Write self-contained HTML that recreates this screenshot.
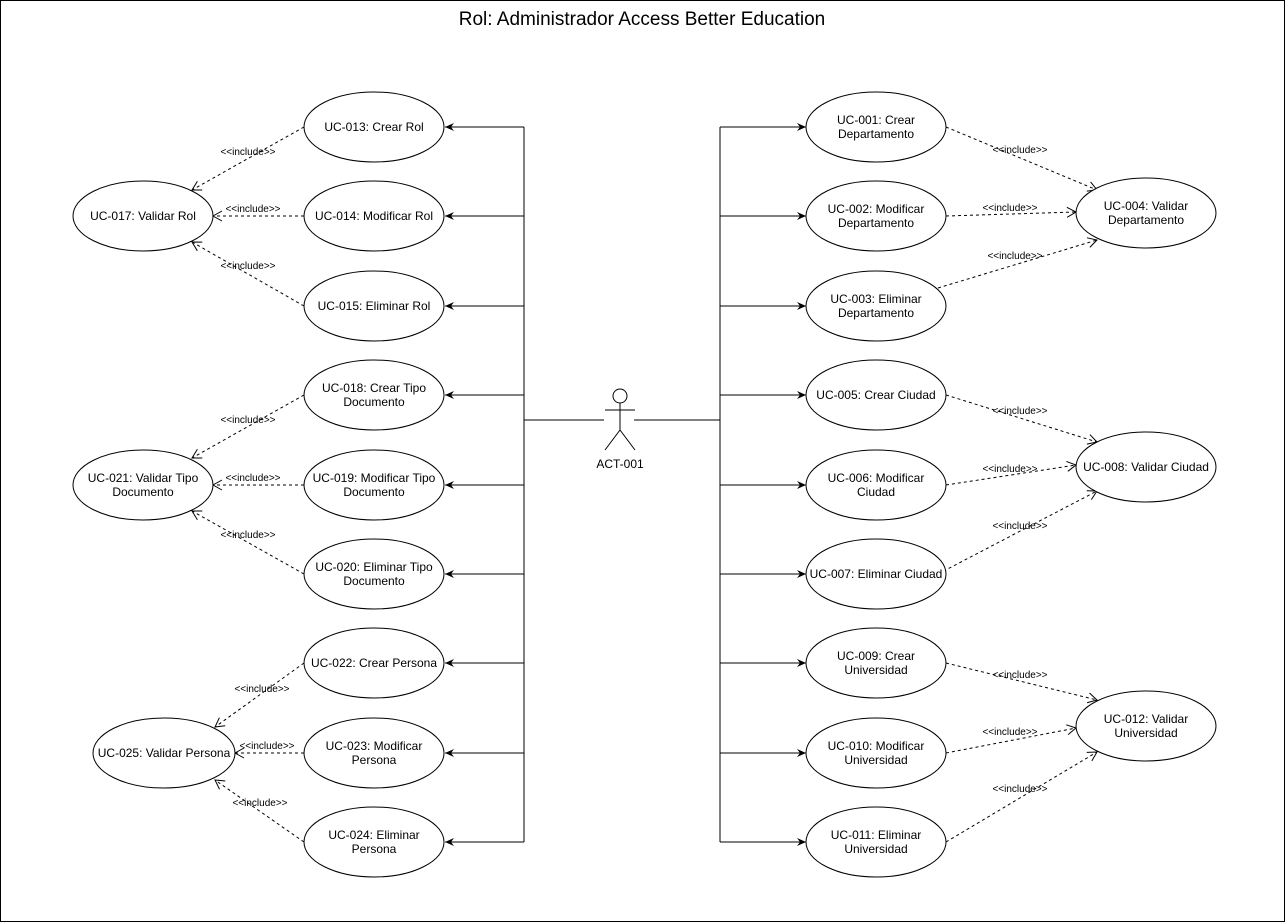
<!DOCTYPE html>
<html><head><meta charset="utf-8"><style>
html,body{margin:0;padding:0;background:#fff}
svg{display:block;font-family:"Liberation Sans",Helvetica,Arial,sans-serif}
.e{fill:#fff;stroke:#000;stroke-width:1}
.t{font-size:12px;text-anchor:middle}
.l{font-size:10px;text-anchor:middle}
.s{stroke:#000;stroke-width:1;fill:none}
.d{stroke:#000;stroke-width:1;fill:none;stroke-dasharray:3,3}
</style></head><body>
<svg width="1285" height="922" viewBox="0 0 1285 922">
<defs>
<marker id="a" markerWidth="10" markerHeight="10" refX="9" refY="5" orient="auto" markerUnits="userSpaceOnUse"><path d="M0,1 L9,5 L0,9 L3,5 Z" fill="#000"/></marker>
<marker id="o" markerWidth="12" markerHeight="12" refX="10" refY="6" orient="auto" markerUnits="userSpaceOnUse"><path d="M1,1 L10,6 L1,11" fill="none" stroke="#000"/></marker>
</defs>
<rect x="0.5" y="0.5" width="1284" height="921" fill="#fff" stroke="#000"/>
<text x="642" y="25" font-size="19" text-anchor="middle">Rol: Administrador Access Better Education</text>

<path class="s" d="M524,127 V842 M524,420 H604 M634,420 H720 M720,127 V842"/>
<g class="s">
<line x1="524" y1="127" x2="445" y2="127" marker-end="url(#a)"/>
<line x1="524" y1="216" x2="445" y2="216" marker-end="url(#a)"/>
<line x1="524" y1="306" x2="445" y2="306" marker-end="url(#a)"/>
<line x1="524" y1="395" x2="445" y2="395" marker-end="url(#a)"/>
<line x1="524" y1="485" x2="445" y2="485" marker-end="url(#a)"/>
<line x1="524" y1="574" x2="445" y2="574" marker-end="url(#a)"/>
<line x1="524" y1="663" x2="445" y2="663" marker-end="url(#a)"/>
<line x1="524" y1="753" x2="445" y2="753" marker-end="url(#a)"/>
<line x1="524" y1="842" x2="445" y2="842" marker-end="url(#a)"/>
<line x1="720" y1="127" x2="806" y2="127" marker-end="url(#a)"/>
<line x1="720" y1="216" x2="806" y2="216" marker-end="url(#a)"/>
<line x1="720" y1="306" x2="806" y2="306" marker-end="url(#a)"/>
<line x1="720" y1="395" x2="806" y2="395" marker-end="url(#a)"/>
<line x1="720" y1="485" x2="806" y2="485" marker-end="url(#a)"/>
<line x1="720" y1="574" x2="806" y2="574" marker-end="url(#a)"/>
<line x1="720" y1="663" x2="806" y2="663" marker-end="url(#a)"/>
<line x1="720" y1="753" x2="806" y2="753" marker-end="url(#a)"/>
<line x1="720" y1="842" x2="806" y2="842" marker-end="url(#a)"/>
</g>

<circle cx="620" cy="396" r="7" class="e"/>
<path class="s" d="M620,403 V430 M605,410 H635 M620,430 L605,450 M620,430 L635,450"/>
<text x="620" y="468" class="t">ACT-001</text>

<g class="d">
<line x1="304" y1="127" x2="192" y2="190" marker-end="url(#o)"/>
<line x1="304" y1="216" x2="213" y2="216" marker-end="url(#o)"/>
<line x1="304" y1="306" x2="192" y2="242" marker-end="url(#o)"/>
<line x1="304" y1="395" x2="192" y2="458" marker-end="url(#o)"/>
<line x1="304" y1="485" x2="213" y2="485" marker-end="url(#o)"/>
<line x1="304" y1="574" x2="192" y2="511" marker-end="url(#o)"/>
<line x1="304" y1="663" x2="215" y2="727" marker-end="url(#o)"/>
<line x1="304" y1="753" x2="235" y2="753" marker-end="url(#o)"/>
<line x1="304" y1="842" x2="215" y2="780" marker-end="url(#o)"/>
<line x1="946" y1="127" x2="1097" y2="190" marker-end="url(#o)"/>
<line x1="946" y1="216" x2="1076" y2="212" marker-end="url(#o)"/>
<line x1="938" y1="288" x2="1097" y2="240" marker-end="url(#o)"/>
<line x1="946" y1="395" x2="1097" y2="442" marker-end="url(#o)"/>
<line x1="946" y1="485" x2="1076" y2="465" marker-end="url(#o)"/>
<line x1="938" y1="574" x2="1097" y2="491" marker-end="url(#o)"/>
<line x1="946" y1="663" x2="1097" y2="700" marker-end="url(#o)"/>
<line x1="946" y1="753" x2="1076" y2="728" marker-end="url(#o)"/>
<line x1="946" y1="842" x2="1097" y2="752" marker-end="url(#o)"/>
</g>
<g class="l">
<text x="248" y="155">&lt;&lt;include&gt;&gt;</text>
<text x="253" y="212">&lt;&lt;include&gt;&gt;</text>
<text x="248" y="269">&lt;&lt;include&gt;&gt;</text>
<text x="248" y="423">&lt;&lt;include&gt;&gt;</text>
<text x="253" y="481">&lt;&lt;include&gt;&gt;</text>
<text x="248" y="538">&lt;&lt;include&gt;&gt;</text>
<text x="262" y="692">&lt;&lt;include&gt;&gt;</text>
<text x="267" y="749">&lt;&lt;include&gt;&gt;</text>
<text x="260" y="806">&lt;&lt;include&gt;&gt;</text>
<text x="1020" y="153">&lt;&lt;include&gt;&gt;</text>
<text x="1010" y="211">&lt;&lt;include&gt;&gt;</text>
<text x="1015" y="259">&lt;&lt;include&gt;&gt;</text>
<text x="1020" y="414">&lt;&lt;include&gt;&gt;</text>
<text x="1010" y="472">&lt;&lt;include&gt;&gt;</text>
<text x="1020" y="529">&lt;&lt;include&gt;&gt;</text>
<text x="1020" y="678">&lt;&lt;include&gt;&gt;</text>
<text x="1010" y="735">&lt;&lt;include&gt;&gt;</text>
<text x="1020" y="792">&lt;&lt;include&gt;&gt;</text>
</g>

<g>
<ellipse class="e" cx="374" cy="127" rx="70" ry="35"/><text class="t" x="374" y="131">UC-013: Crear Rol</text>
<ellipse class="e" cx="374" cy="216" rx="70" ry="35"/><text class="t" x="374" y="220">UC-014: Modificar Rol</text>
<ellipse class="e" cx="374" cy="306" rx="70" ry="35"/><text class="t" x="374" y="310">UC-015: Eliminar Rol</text>
<ellipse class="e" cx="374" cy="395" rx="70" ry="35"/><text class="t" x="374" y="392">UC-018: Crear Tipo</text><text class="t" x="374" y="406">Documento</text>
<ellipse class="e" cx="374" cy="485" rx="70" ry="35"/><text class="t" x="374" y="482">UC-019: Modificar Tipo</text><text class="t" x="374" y="496">Documento</text>
<ellipse class="e" cx="374" cy="574" rx="70" ry="35"/><text class="t" x="374" y="571">UC-020: Eliminar Tipo</text><text class="t" x="374" y="585">Documento</text>
<ellipse class="e" cx="374" cy="663" rx="70" ry="35"/><text class="t" x="374" y="667">UC-022: Crear Persona</text>
<ellipse class="e" cx="374" cy="753" rx="70" ry="35"/><text class="t" x="374" y="750">UC-023: Modificar</text><text class="t" x="374" y="764">Persona</text>
<ellipse class="e" cx="374" cy="842" rx="70" ry="35"/><text class="t" x="374" y="839">UC-024: Eliminar</text><text class="t" x="374" y="853">Persona</text>

<ellipse class="e" cx="143" cy="216" rx="70" ry="35"/><text class="t" x="143" y="220">UC-017: Validar Rol</text>
<ellipse class="e" cx="143" cy="485" rx="70" ry="35"/><text class="t" x="143" y="482">UC-021: Validar Tipo</text><text class="t" x="143" y="496">Documento</text>
<ellipse class="e" cx="164" cy="753" rx="71" ry="35"/><text class="t" x="164" y="757">UC-025: Validar Persona</text>
</g>

<g>
<ellipse class="e" cx="876" cy="127" rx="70" ry="35"/><text class="t" x="876" y="124">UC-001: Crear</text><text class="t" x="876" y="138">Departamento</text>
<ellipse class="e" cx="876" cy="216" rx="70" ry="35"/><text class="t" x="876" y="213">UC-002: Modificar</text><text class="t" x="876" y="227">Departamento</text>
<ellipse class="e" cx="876" cy="306" rx="70" ry="35"/><text class="t" x="876" y="303">UC-003: Eliminar</text><text class="t" x="876" y="317">Departamento</text>
<ellipse class="e" cx="876" cy="395" rx="70" ry="35"/><text class="t" x="876" y="399">UC-005: Crear Ciudad</text>
<ellipse class="e" cx="876" cy="485" rx="70" ry="35"/><text class="t" x="876" y="482">UC-006: Modificar</text><text class="t" x="876" y="496">Ciudad</text>
<ellipse class="e" cx="876" cy="574" rx="70" ry="35"/><text class="t" x="876" y="578">UC-007: Eliminar Ciudad</text>
<ellipse class="e" cx="876" cy="663" rx="70" ry="35"/><text class="t" x="876" y="660">UC-009: Crear</text><text class="t" x="876" y="674">Universidad</text>
<ellipse class="e" cx="876" cy="753" rx="70" ry="35"/><text class="t" x="876" y="750">UC-010: Modificar</text><text class="t" x="876" y="764">Universidad</text>
<ellipse class="e" cx="876" cy="842" rx="70" ry="35"/><text class="t" x="876" y="839">UC-011: Eliminar</text><text class="t" x="876" y="853">Universidad</text>

<ellipse class="e" cx="1146" cy="213" rx="70" ry="35"/><text class="t" x="1146" y="210">UC-004: Validar</text><text class="t" x="1146" y="224">Departamento</text>
<ellipse class="e" cx="1146" cy="467" rx="70" ry="35"/><text class="t" x="1146" y="471">UC-008: Validar Ciudad</text>
<ellipse class="e" cx="1146" cy="726" rx="70" ry="35"/><text class="t" x="1146" y="723">UC-012: Validar</text><text class="t" x="1146" y="737">Universidad</text>
</g>
</svg>
</body></html>
